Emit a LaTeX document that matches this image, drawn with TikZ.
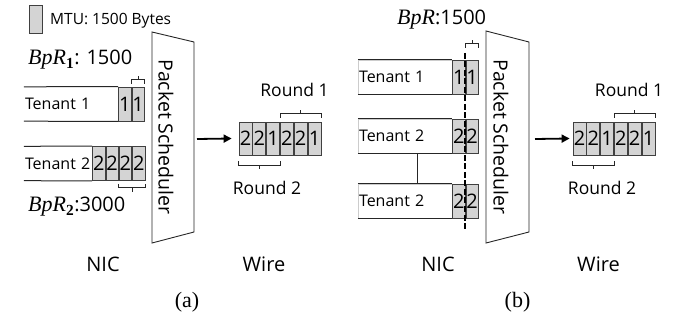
\documentclass[tikz,border=0pt]{standalone}
\usepackage{fontspec}
\setmainfont{Open Sans}
\newfontfamily\capfont{Liberation Serif}
\usetikzlibrary{arrows.meta,positioning}

\begin{document}
\begin{tikzpicture}[x=1pt, y=-1pt, node distance=0pt,
    pkt/.style={draw=black!75, fill=black!17, line width=0.8pt, minimum width=12.5pt, minimum height=34pt, inner sep=0pt, font=\fontsize{20}{20}\selectfont},
    wpkt/.style={pkt, minimum width=13pt, minimum height=33pt},
    tnt/.style={text width=#1, inner xsep=1pt, inner ysep=0pt, minimum height=34pt, align=left, font=\fontsize{16}{19}\selectfont},
    lane/.style={line width=1pt, black!85},
    brc/.style={line width=1pt, black!85},
    arr/.style={-{Triangle[length=8pt, width=8pt]}, line width=1.8pt},
    sched/.style={line width=0.9pt, black!85},
    lbl/.style={font=\fontsize{16}{19}\selectfont, inner sep=0pt},
    big/.style={font=\fontsize{20}{24}\selectfont, inner sep=0pt},
    capt/.style={font=\capfont\fontsize{22}{26}\selectfont, inner sep=0pt},
    cut/.style={line width=2.4pt, dash pattern=on 6pt off 2.5pt}
]
\useasboundingbox (0,0) rectangle (676,320);

% legend
\node[draw=black!75, fill=black!17, line width=0.8pt, minimum width=13pt, minimum height=28pt, inner sep=0pt] (mtu) at (35.5,19) {};
\node[lbl, font=\fontsize{15.5}{18}\selectfont, anchor=west] (mtutxt) at (50,21) {MTU: 1500 Bytes};

%%% (a)
\node[big, anchor=west] (bpr1) at (28,60) {{\capfont\fontsize{22}{24}\selectfont\itshape BpR\textsubscript{\upshape\bfseries 1}}: 1500};
\node[tnt=92pt] (t1a) at (71,104) {Tenant 1};
\node[pkt, right=of t1a] (a11) {1};
\node[pkt, right=of a11] (a12) {1};
\draw[lane] (t1a.north west) -- (a11.north west);
\draw[lane] (t1a.south west) -- (a11.south west);
\draw[brc] ([yshift=3pt]a12.north west) -- ++(0,-4) -| ([yshift=3pt]a12.north east);
\draw[brc] ([yshift=7pt]a12.north) -- ++(0,-4);

\node[tnt=66pt] (t2a) at (58,163.5) {Tenant 2};
\node[pkt, right=of t2a] (a21) {2};
\node[pkt, right=of a21] (a22) {2};
\node[pkt, right=of a22] (a23) {2};
\node[pkt, right=of a23] (a24) {2};
\draw[lane] (t2a.north west) -- (a21.north west);
\draw[lane] (t2a.south west) -- (a21.south west);
\draw[brc] ([yshift=-3pt]a23.south west) -- ++(0,4) -| ([yshift=-3pt]a24.south east);
\draw[brc] ([yshift=-7pt]a23.south east) -- ++(0,4);
\node[big, anchor=west] (bpr2) at (28,207) {{\capfont\fontsize{22}{24}\selectfont\itshape BpR\textsubscript{\upshape\bfseries 2}}:3000};

\draw[sched] (152,32) -- (194,42) -- (194,232) -- (152,243) -- cycle;
\coordinate (sao) at (194,139);
\node[rotate=-90, font=\fontsize{19.5}{24}\selectfont, inner sep=0pt] (schA) at (166,137) {Packet Scheduler};

\node[wpkt] (wa1) at (245.5,138.5) {2};
\node[wpkt, right=of wa1] (wa2) {2};
\node[wpkt, right=of wa2] (wa3) {1};
\node[wpkt, right=of wa3] (wa4) {2};
\node[wpkt, right=of wa4] (wa5) {2};
\node[wpkt, right=of wa5] (wa6) {1};
\draw[arr] ([xshift=3pt]sao) -- ([xshift=-7pt]wa1.west);
\draw[brc] ([yshift=4pt]wa4.north west) -- ++(0,-4) -| ([yshift=4pt]wa6.north east);
\draw[brc] ([yshift=8pt]wa5.north) -- ++(0,-4);
\node[lbl, font=\fontsize{17.5}{20}\selectfont] (r1a) at (294.5,90) {Round 1};
\draw[brc] ([yshift=-6pt]wa1.south west) -- ++(0,4) -| ([yshift=-6pt]wa3.south east);
\draw[brc] ([yshift=-10pt]wa2.south) -- ++(0,4);
\node[lbl, font=\fontsize{17.5}{20}\selectfont] (r2a) at (267,188) {Round 2};

\node[big] (nica) at (103,264) {NIC};
\node[big] (wirea) at (264,264) {Wire};
\node[capt] (capa) at (187,302) {(a)};

%%% (b)
\node[big, anchor=west] (bpr) at (397,20) {{\capfont\fontsize{22}{24}\selectfont\itshape BpR}:1500};
\node[tnt=92pt, draw=black!20] (t1b) at (405,77) {Tenant 1};
\node[tnt=92pt, draw=black!20] (t2b) at (405,136) {Tenant 2};
\node[tnt=92pt, draw=black!20] (t3b) at (405,201) {Tenant 2};
\foreach \t in {t1b,t2b,t3b} {
  \draw[lane] (\t.north west) -- (\t.north east);
  \draw[lane] (\t.south west) -- (\t.south east);
}
\draw[lane] ([xshift=12pt]t2b.south) -- ([xshift=12pt]t3b.north);
\node[pkt, right=of t1b] (b11) {1};
\node[pkt, right=of b11] (b12) {1};
\node[pkt, right=of t2b] (b21) {2};
\node[pkt, right=of b21] (b22) {2};
\node[pkt, right=of t3b] (b31) {2};
\node[pkt, right=of b31] (b32) {2};
\draw[brc] ([yshift=12pt]b12.north west) -- ++(0,-4) -| ([yshift=12pt]b12.north east);
\draw[brc] ([yshift=16pt]b12.north) -- ++(0,-4);
\coordinate (cuttop) at (465,53);
\coordinate (cutbot) at (465,229);
\draw[cut] (cuttop) -- (cutbot);

\draw[sched] (486,31) -- (529,42) -- (529,232) -- (486,243) -- cycle;
\coordinate (sbo) at (529,139);
\node[rotate=-90, font=\fontsize{19.5}{24}\selectfont, inner sep=0pt] (schB) at (501,137) {Packet Scheduler};

\node[wpkt] (wb1) at (579.5,138.5) {2};
\node[wpkt, right=of wb1] (wb2) {2};
\node[wpkt, right=of wb2] (wb3) {1};
\node[wpkt, right=of wb3] (wb4) {2};
\node[wpkt, right=of wb4] (wb5) {2};
\node[wpkt, right=of wb5] (wb6) {1};
\draw[arr] ([xshift=6pt]sbo) -- ([xshift=-3pt]wb1.west);
\draw[brc] ([yshift=4pt]wb4.north west) -- ++(0,-4) -| ([yshift=4pt]wb6.north east);
\draw[brc] ([yshift=8pt]wb5.north) -- ++(0,-4);
\node[lbl, font=\fontsize{17.5}{20}\selectfont] (r1b) at (629,90) {Round 1};
\draw[brc] ([yshift=-6pt]wb1.south west) -- ++(0,4) -| ([yshift=-6pt]wb3.south east);
\draw[brc] ([yshift=-10pt]wb2.south) -- ++(0,4);
\node[lbl, font=\fontsize{17.5}{20}\selectfont] (r2b) at (602,188) {Round 2};

\node[big] (nicb) at (438,264) {NIC};
\node[big] (wireb) at (598.5,264) {Wire};
\node[capt] (capb) at (517.5,302) {(b)};
\end{tikzpicture}
\end{document}
